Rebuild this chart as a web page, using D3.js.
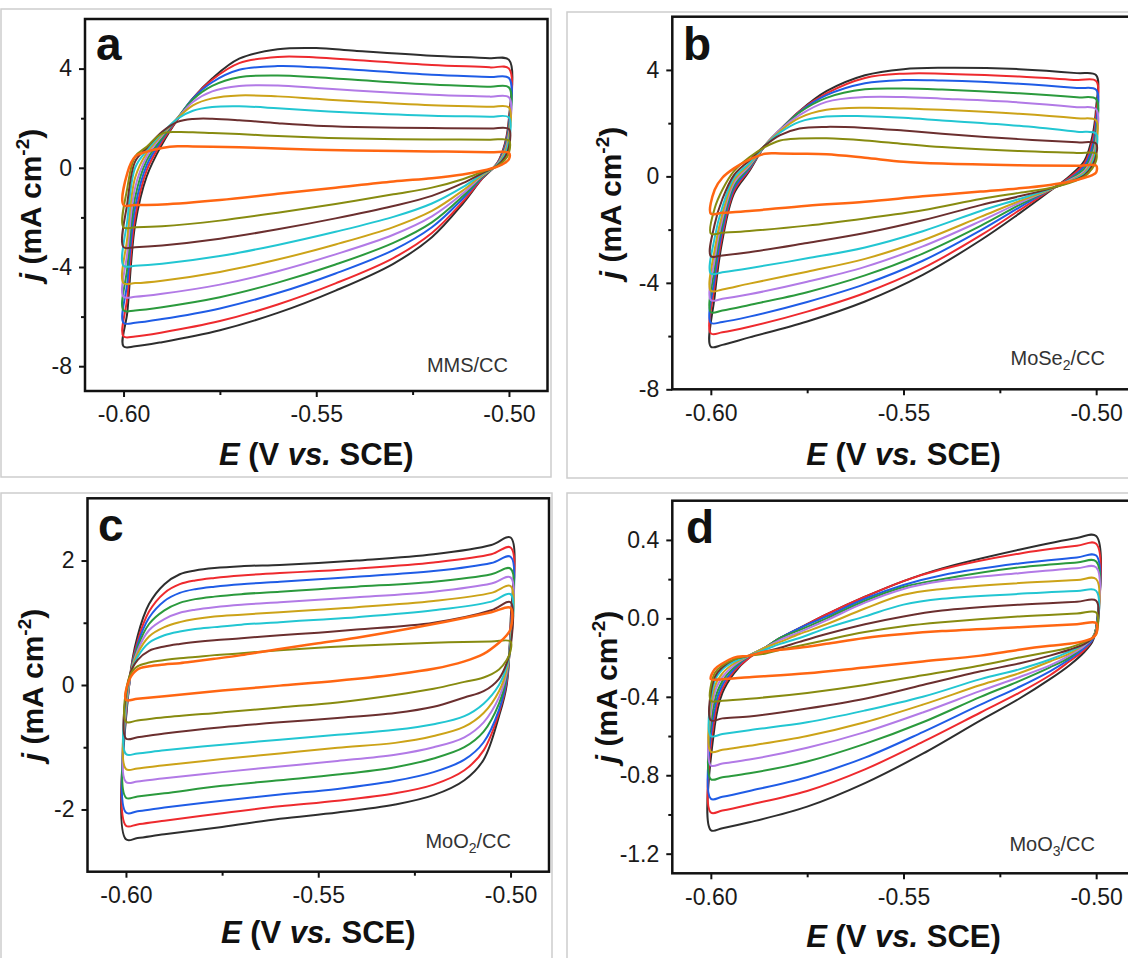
<!DOCTYPE html>
<html>
<head>
<meta charset="utf-8">
<script src="https://cdn.jsdelivr.net/npm/d3@7"></script>
<style>
  html, body { margin: 0; padding: 0; background: #ffffff; }
  svg { display: block; }
</style>
</head>
<body>
<svg id="fig" width="1128" height="958"></svg>
<script>
// Cyclic voltammograms at ten scan rates, outermost (fastest) loop first.
const scanColors = ["#2e2e2e", "#ee2a2e", "#1f5ce6", "#2b9a3d", "#b27ae6",
                    "#cca318", "#22c6d2", "#6b2f2f", "#878b10", "#ff6612"];

// Potential grid (V vs. SCE): anodic sweep, then the cathodic return sweep.
const eUpper = [-0.6, -0.599, -0.597, -0.594, -0.59, -0.586, -0.582, -0.577, -0.57, -0.56, -0.55, -0.54, -0.52, -0.505, -0.5];
const eLower = [-0.5, -0.501, -0.503, -0.507, -0.512, -0.52, -0.53, -0.545, -0.56, -0.575, -0.59, -0.597];

const xTickValues = [-0.60, -0.55, -0.50];
const xMinorValues = [-0.575, -0.525];

// ---- MMS/CC (mA cm-2)
const mmsUpper = [
  [-7.2, -5.8, -2.3, -0.35, 0.95, 1.95, 2.8, 3.6, 4.4, 4.78, 4.83, 4.72, 4.52, 4.42, 4.35],
  [-6.8, -5.2, -2.0, -0.1, 1.05, 1.95, 2.8, 3.55, 4.22, 4.47, 4.45, 4.35, 4.15, 4.05, 4.0],
  [-6.25, -4.6, -1.6, 0.1, 1.15, 2.0, 2.8, 3.45, 3.95, 4.1, 4.05, 3.95, 3.75, 3.66, 3.62],
  [-5.75, -4.0, -1.2, 0.3, 1.2, 2.0, 2.75, 3.3, 3.65, 3.72, 3.65, 3.55, 3.36, 3.27, 3.24],
  [-5.2, -3.4, -0.8, 0.45, 1.3, 2.0, 2.65, 3.08, 3.3, 3.32, 3.22, 3.12, 2.95, 2.87, 2.84],
  [-4.65, -2.8, -0.4, 0.6, 1.35, 2.0, 2.52, 2.8, 2.92, 2.88, 2.78, 2.68, 2.52, 2.46, 2.43],
  [-3.95, -2.1, 0.0, 0.7, 1.4, 1.98, 2.3, 2.45, 2.48, 2.4, 2.3, 2.22, 2.1, 2.06, 2.03],
  [-3.2, -1.4, 0.25, 0.8, 1.45, 1.85, 1.97, 1.98, 1.92, 1.8, 1.7, 1.65, 1.6, 1.58, 1.56],
  [-2.4, -0.8, 0.45, 0.85, 1.38, 1.44, 1.43, 1.4, 1.36, 1.28, 1.22, 1.18, 1.14, 1.13, 1.1],
  [-1.5, -0.2, 0.45, 0.65, 0.8, 0.87, 0.86, 0.85, 0.83, 0.78, 0.73, 0.7, 0.66, 0.63, 0.6]
];
const mmsLower = [
  [2.0, 1.0, 0.2, -0.45, -1.45, -2.8, -3.87, -4.95, -5.85, -6.55, -7.03, -7.2],
  [1.88, 0.94, 0.19, -0.43, -1.37, -2.63, -3.64, -4.66, -5.51, -6.18, -6.64, -6.8],
  [1.72, 0.87, 0.17, -0.39, -1.25, -2.4, -3.32, -4.26, -5.05, -5.67, -6.1, -6.25],
  [1.58, 0.8, 0.16, -0.37, -1.15, -2.2, -3.03, -3.9, -4.63, -5.22, -5.62, -5.75],
  [1.42, 0.72, 0.15, -0.33, -1.04, -1.96, -2.7, -3.49, -4.17, -4.71, -5.08, -5.2],
  [1.26, 0.64, 0.13, -0.3, -0.92, -1.74, -2.39, -3.09, -3.7, -4.2, -4.55, -4.65],
  [1.06, 0.54, 0.11, -0.26, -0.78, -1.44, -1.98, -2.58, -3.11, -3.56, -3.87, -3.95],
  [0.84, 0.44, 0.09, -0.22, -0.62, -1.13, -1.54, -2.04, -2.48, -2.86, -3.13, -3.2],
  [0.61, 0.33, 0.07, -0.17, -0.46, -0.8, -1.07, -1.46, -1.81, -2.13, -2.36, -2.4],
  [0.35, 0.2, 0.05, -0.12, -0.27, -0.42, -0.55, -0.8, -1.05, -1.3, -1.48, -1.5]
];
const mmsTicks = [-8, -4, 0, 4];
const mmsMinor = [-6, -2, 2];

// ---- MoSe2/CC
const moSe2Upper = [
  [-6.4, -4.5, -2.4, -0.65, 0.2, 1.15, 1.75, 2.45, 3.2, 3.8, 4.03, 4.08, 4.03, 3.88, 3.8],
  [-5.9, -4.1, -2.2, -0.55, 0.25, 1.15, 1.75, 2.45, 3.12, 3.7, 3.86, 3.86, 3.75, 3.62, 3.58],
  [-5.5, -3.8, -2.0, -0.45, 0.3, 1.15, 1.75, 2.42, 3.05, 3.5, 3.62, 3.6, 3.48, 3.32, 3.25],
  [-5.1, -3.45, -1.8, -0.35, 0.35, 1.15, 1.75, 2.4, 2.95, 3.27, 3.3, 3.26, 3.12, 2.97, 2.9],
  [-4.65, -3.1, -1.6, -0.25, 0.4, 1.15, 1.75, 2.3, 2.8, 2.98, 2.98, 2.92, 2.78, 2.6, 2.52],
  [-4.3, -2.75, -1.4, -0.15, 0.45, 1.15, 1.7, 2.2, 2.5, 2.58, 2.55, 2.5, 2.35, 2.18, 2.1],
  [-3.65, -2.3, -1.15, -0.05, 0.5, 1.15, 1.65, 2.05, 2.25, 2.26, 2.2, 2.1, 1.9, 1.68, 1.6],
  [-3.0, -1.8, -0.85, 0.05, 0.6, 1.15, 1.55, 1.8, 1.86, 1.82, 1.72, 1.6, 1.4, 1.28, 1.23],
  [-2.15, -1.2, -0.5, 0.2, 0.72, 1.1, 1.35, 1.42, 1.43, 1.35, 1.22, 1.1, 0.95, 0.88, 0.85],
  [-1.4, -0.5, -0.05, 0.3, 0.63, 0.85, 0.86, 0.85, 0.83, 0.7, 0.55, 0.48, 0.42, 0.4, 0.4]
];
const moSe2Lower = [
  [2.6, 1.5, 0.6, 0.0, -0.55, -1.4, -2.4, -3.7, -4.7, -5.45, -6.05, -6.33],
  [2.3, 1.3, 0.5, -0.05, -0.52, -1.28, -2.22, -3.45, -4.38, -5.08, -5.65, -5.86],
  [2.0, 1.1, 0.4, -0.1, -0.5, -1.17, -2.03, -3.17, -4.05, -4.72, -5.27, -5.47],
  [1.7, 0.9, 0.3, -0.12, -0.5, -1.08, -1.86, -2.9, -3.72, -4.35, -4.83, -5.04],
  [1.4, 0.75, 0.2, -0.15, -0.5, -1.0, -1.68, -2.63, -3.4, -3.96, -4.43, -4.6],
  [1.2, 0.6, 0.15, -0.18, -0.5, -0.93, -1.52, -2.4, -3.1, -3.58, -4.03, -4.25],
  [1.0, 0.5, 0.1, -0.2, -0.48, -0.85, -1.3, -2.06, -2.67, -3.08, -3.45, -3.6],
  [0.8, 0.4, 0.05, -0.22, -0.46, -0.75, -1.08, -1.65, -2.13, -2.5, -2.85, -2.97],
  [0.6, 0.3, 0.0, -0.25, -0.44, -0.62, -0.85, -1.27, -1.58, -1.85, -2.05, -2.12],
  [0.15, 0.05, -0.05, -0.2, -0.32, -0.45, -0.57, -0.75, -0.95, -1.1, -1.3, -1.37]
];
const moSe2Ticks = [-8, -4, 0, 4];
const moSe2Minor = [-6, -2, 2];

// ---- MoO2/CC
const moO2Upper = [
  [-2.48, 0.1, 0.78, 1.3, 1.62, 1.78, 1.84, 1.88, 1.91, 1.93, 1.96, 2.0, 2.1, 2.25, 2.37],
  [-2.26, 0.1, 0.7, 1.18, 1.48, 1.62, 1.68, 1.72, 1.76, 1.8, 1.83, 1.87, 1.97, 2.1, 2.21],
  [-2.05, 0.1, 0.65, 1.08, 1.35, 1.48, 1.54, 1.58, 1.62, 1.66, 1.7, 1.74, 1.83, 1.96, 2.06],
  [-1.81, 0.1, 0.6, 0.98, 1.2, 1.32, 1.38, 1.42, 1.46, 1.5, 1.54, 1.58, 1.66, 1.78, 1.87],
  [-1.56, 0.1, 0.55, 0.88, 1.06, 1.16, 1.21, 1.25, 1.29, 1.33, 1.37, 1.41, 1.5, 1.63, 1.73],
  [-1.35, 0.12, 0.5, 0.78, 0.93, 1.01, 1.06, 1.1, 1.13, 1.17, 1.21, 1.25, 1.35, 1.48, 1.59],
  [-1.11, 0.14, 0.45, 0.68, 0.8, 0.86, 0.9, 0.93, 0.97, 1.01, 1.05, 1.09, 1.2, 1.34, 1.46],
  [-0.86, 0.16, 0.4, 0.55, 0.62, 0.66, 0.69, 0.72, 0.75, 0.8, 0.84, 0.89, 1.0, 1.2, 1.33],
  [-0.59, 0.15, 0.3, 0.36, 0.4, 0.43, 0.45, 0.48, 0.51, 0.56, 0.6, 0.63, 0.68, 0.7, 0.7],
  [-0.24, 0.1, 0.25, 0.3, 0.33, 0.35, 0.38, 0.42, 0.48, 0.58, 0.67, 0.76, 0.98, 1.17, 1.24]
];
const moO2Lower = [
  [1.0, 0.0, -0.5, -1.2, -1.53, -1.77, -1.92, -2.05, -2.15, -2.28, -2.4, -2.46],
  [0.9, 0.05, -0.45, -1.05, -1.37, -1.6, -1.74, -1.86, -1.95, -2.06, -2.18, -2.24],
  [0.85, 0.1, -0.4, -0.92, -1.2, -1.4, -1.54, -1.67, -1.76, -1.86, -1.97, -2.03],
  [0.8, 0.15, -0.3, -0.75, -1.0, -1.18, -1.32, -1.44, -1.53, -1.62, -1.74, -1.79],
  [0.75, 0.2, -0.2, -0.6, -0.84, -1.0, -1.12, -1.22, -1.31, -1.4, -1.5, -1.55],
  [0.7, 0.25, -0.1, -0.45, -0.67, -0.82, -0.93, -1.01, -1.1, -1.19, -1.29, -1.34],
  [0.65, 0.3, 0.0, -0.3, -0.5, -0.63, -0.72, -0.8, -0.88, -0.96, -1.05, -1.1],
  [0.6, 0.35, 0.1, -0.1, -0.2, -0.35, -0.45, -0.53, -0.6, -0.68, -0.78, -0.84],
  [0.55, 0.4, 0.25, 0.12, 0.05, -0.06, -0.16, -0.28, -0.36, -0.44, -0.52, -0.57],
  [0.9, 0.8, 0.68, 0.5, 0.38, 0.26, 0.17, 0.07, -0.01, -0.09, -0.18, -0.22]
];
const moO2Ticks = [-2, 0, 2];
const moO2Minor = [-1, 1];

// ---- MoO3/CC
const moO3Upper = [
  [-1.08, -0.55, -0.38, -0.28, -0.2, -0.15, -0.1, -0.05, 0.02, 0.11, 0.19, 0.255, 0.35, 0.41, 0.42],
  [-0.99, -0.5, -0.36, -0.27, -0.2, -0.15, -0.1, -0.05, 0.02, 0.11, 0.19, 0.25, 0.33, 0.37, 0.38],
  [-0.92, -0.46, -0.34, -0.26, -0.19, -0.15, -0.1, -0.05, 0.01, 0.1, 0.17, 0.22, 0.28, 0.31, 0.32],
  [-0.82, -0.42, -0.32, -0.25, -0.19, -0.15, -0.1, -0.06, 0.0, 0.09, 0.16, 0.2, 0.26, 0.285, 0.29],
  [-0.75, -0.38, -0.3, -0.24, -0.19, -0.15, -0.11, -0.07, -0.01, 0.08, 0.15, 0.19, 0.23, 0.255, 0.26],
  [-0.68, -0.35, -0.28, -0.23, -0.19, -0.15, -0.12, -0.08, -0.03, 0.05, 0.12, 0.15, 0.18, 0.195, 0.2],
  [-0.6, -0.32, -0.26, -0.22, -0.19, -0.16, -0.13, -0.1, -0.05, 0.01, 0.07, 0.1, 0.125, 0.14, 0.14],
  [-0.52, -0.3, -0.25, -0.21, -0.19, -0.17, -0.15, -0.12, -0.08, -0.03, 0.01, 0.04, 0.07, 0.085, 0.09],
  [-0.42, -0.28, -0.24, -0.21, -0.19, -0.18, -0.16, -0.14, -0.11, -0.07, -0.04, -0.02, 0.01, 0.025, 0.03],
  [-0.31, -0.26, -0.23, -0.2, -0.19, -0.17, -0.16, -0.15, -0.13, -0.1, -0.08, -0.065, -0.045, -0.03, -0.024]
];
const moO3Lower = [
  [-0.05, -0.12, -0.17, -0.24, -0.31, -0.41, -0.52, -0.69, -0.84, -0.96, -1.04, -1.07],
  [-0.05, -0.11, -0.16, -0.22, -0.29, -0.38, -0.48, -0.63, -0.77, -0.88, -0.95, -0.98],
  [-0.05, -0.11, -0.15, -0.21, -0.27, -0.35, -0.44, -0.58, -0.71, -0.81, -0.88, -0.91],
  [-0.05, -0.1, -0.14, -0.2, -0.25, -0.32, -0.4, -0.53, -0.64, -0.73, -0.79, -0.81],
  [-0.06, -0.1, -0.14, -0.19, -0.24, -0.3, -0.37, -0.48, -0.58, -0.66, -0.72, -0.74],
  [-0.06, -0.1, -0.13, -0.18, -0.22, -0.28, -0.34, -0.44, -0.53, -0.6, -0.65, -0.67],
  [-0.07, -0.1, -0.13, -0.17, -0.21, -0.26, -0.31, -0.4, -0.47, -0.53, -0.57, -0.59],
  [-0.07, -0.1, -0.13, -0.16, -0.19, -0.23, -0.27, -0.34, -0.41, -0.46, -0.5, -0.51],
  [-0.08, -0.1, -0.12, -0.15, -0.17, -0.2, -0.24, -0.29, -0.34, -0.38, -0.41, -0.42],
  [-0.08, -0.1, -0.115, -0.13, -0.14, -0.16, -0.19, -0.22, -0.25, -0.28, -0.3, -0.31]
];
const moO3Ticks = [-1.2, -0.8, -0.4, 0.0, 0.4];
const moO3Minor = [-1.0, -0.6, -0.2, 0.2];

// ---- figure layout
const FONT = "'Liberation Sans', Arial, Helvetica, sans-serif";
const svg = d3.select("#fig");

// light grey boxes around each sub-figure
const boxes = [
  { x: 1, y: 9, w: 550, h: 468 },
  { x: 567, y: 12, w: 600, h: 466 },
  { x: 1, y: 493, w: 551, h: 480 },
  { x: 567, y: 493, w: 600, h: 480 }
];
svg.selectAll("rect.box").data(boxes).join("rect")
  .attr("class", "box")
  .attr("x", d => d.x).attr("y", d => d.y)
  .attr("width", d => d.w).attr("height", d => d.h)
  .attr("fill", "none").attr("stroke", "#cdcdcd").attr("stroke-width", 1.5);

const panels = [
  { letter: "a", name: ["MMS/CC"], upper: mmsUpper, lower: mmsLower,
    yDomain: [-9, 6], yTicks: mmsTicks, yMinor: mmsMinor, yFmt: d => String(d),
    left: 85, right: 547.5, top: 19, bottom: 391,
    letterPos: [96, 60], namePos: [508, 372], yTitleX: 41, xTitleY: 465 },
  { letter: "b", name: ["MoSe", "2", "/CC"], upper: moSe2Upper, lower: moSe2Lower,
    yDomain: [-8, 6], yTicks: moSe2Ticks, yMinor: moSe2Minor, yFmt: d => String(d),
    left: 672.3, right: 1134.7, top: 16.7, bottom: 389.3,
    letterPos: [683, 60], namePos: [1105, 365], yTitleX: 621, xTitleY: 465 },
  { letter: "c", name: ["MoO", "2", "/CC"], upper: moO2Upper, lower: moO2Lower,
    yDomain: [-3, 3], yTicks: moO2Ticks, yMinor: moO2Minor, yFmt: d => String(d),
    left: 87.5, right: 549, top: 498.3, bottom: 871.7,
    letterPos: [98, 541], namePos: [511, 848], yTitleX: 43, xTitleY: 943 },
  { letter: "d", name: ["MoO", "3", "/CC"], upper: moO3Upper, lower: moO3Lower,
    yDomain: [-1.3, 0.6], yTicks: moO3Ticks, yMinor: moO3Minor, yFmt: d => d.toFixed(1),
    left: 672.3, right: 1134.7, top: 500.7, bottom: 873.3,
    letterPos: [686, 543], namePos: [1095, 851], yTitleX: 617, xTitleY: 947 }
];

function drawPanel(p) {
  const x = d3.scaleLinear().domain([-0.61, -0.49]).range([p.left, p.right]);
  const y = d3.scaleLinear().domain(p.yDomain).range([p.bottom, p.top]);
  const g = svg.append("g");

  // CV loops: anodic sweep then cathodic sweep, closed back to the start
  const loop = d3.line()
    .x(d => x(d[0])).y(d => y(d[1]))
    .curve(d3.curveCatmullRomClosed.alpha(0.5));
  const order = d3.range(scanColors.length);
  g.selectAll("path.cv").data(order).join("path")
    .attr("class", "cv")
    .attr("d", i => loop(
      eUpper.map((e, k) => [e, p.upper[i][k]])
        .concat(eLower.map((e, k) => [e, p.lower[i][k]]))))
    .attr("fill", "none")
    .attr("stroke", i => scanColors[i])
    .attr("stroke-width", i => i === 9 ? 2.5 : 2)
    .attr("stroke-linejoin", "round");

  // axes (ticks point outward)
  const tickStyle = sel => {
    sel.select(".domain").remove();
    sel.selectAll(".tick line").attr("stroke", "#111").attr("stroke-width", 2);
    sel.selectAll(".tick text").attr("fill", "#1a1a1a")
      .style("font-family", FONT).style("font-size", "23px");
  };
  g.append("g").attr("transform", `translate(0,${p.bottom})`)
    .call(d3.axisBottom(x).tickValues(xTickValues).tickSize(6).tickPadding(9)
      .tickFormat(d => d.toFixed(2)))
    .call(tickStyle);
  g.append("g").attr("transform", `translate(0,${p.bottom})`)
    .call(d3.axisBottom(x).tickValues(xMinorValues).tickSize(4).tickFormat(""))
    .call(tickStyle);
  g.append("g").attr("transform", `translate(${p.left},0)`)
    .call(d3.axisLeft(y).tickValues(p.yTicks).tickSize(6).tickPadding(7)
      .tickFormat(p.yFmt))
    .call(tickStyle);
  g.append("g").attr("transform", `translate(${p.left},0)`)
    .call(d3.axisLeft(y).tickValues(p.yMinor).tickSize(4).tickFormat(""))
    .call(tickStyle);

  // plot frame
  g.append("rect")
    .attr("x", p.left).attr("y", p.top)
    .attr("width", p.right - p.left).attr("height", p.bottom - p.top)
    .attr("fill", "none").attr("stroke", "#111").attr("stroke-width", 2.5);

  // panel letter
  g.append("text").attr("x", p.letterPos[0]).attr("y", p.letterPos[1])
    .style("font-family", FONT).style("font-weight", "bold").style("font-size", "46px")
    .attr("fill", "#111").text(p.letter);

  // sample name, with subscript when present
  const nm = g.append("text").attr("x", p.namePos[0]).attr("y", p.namePos[1])
    .attr("text-anchor", "end").attr("fill", "#333")
    .style("font-family", FONT).style("font-size", "20px");
  nm.append("tspan").text(p.name[0]);
  if (p.name.length > 1) {
    nm.append("tspan").attr("dy", 5).style("font-size", "14px").text(p.name[1]);
    nm.append("tspan").attr("dy", -5).text(p.name[2]);
  }

  // x title
  const xt = g.append("text")
    .attr("x", (p.left + p.right) / 2).attr("y", p.xTitleY)
    .attr("text-anchor", "middle").attr("fill", "#111")
    .style("font-family", FONT).style("font-weight", "bold").style("font-size", "31px");
  xt.append("tspan").style("font-style", "italic").text("E");
  xt.append("tspan").text(" (V ");
  xt.append("tspan").style("font-style", "italic").text("vs.");
  xt.append("tspan").text(" SCE)");

  // y title
  const yt = g.append("text")
    .attr("transform", `translate(${p.yTitleX},${(p.top + p.bottom) / 2}) rotate(-90)`)
    .attr("text-anchor", "middle").attr("fill", "#111")
    .style("font-family", FONT).style("font-weight", "bold").style("font-size", "30px");
  yt.append("tspan").style("font-style", "italic").text("j");
  yt.append("tspan").text(" (mA cm");
  yt.append("tspan").attr("dy", -12).style("font-size", "19px").text("-2");
  yt.append("tspan").attr("dy", 12).text(")");
}

panels.forEach(drawPanel);
</script>
</body>
</html>
